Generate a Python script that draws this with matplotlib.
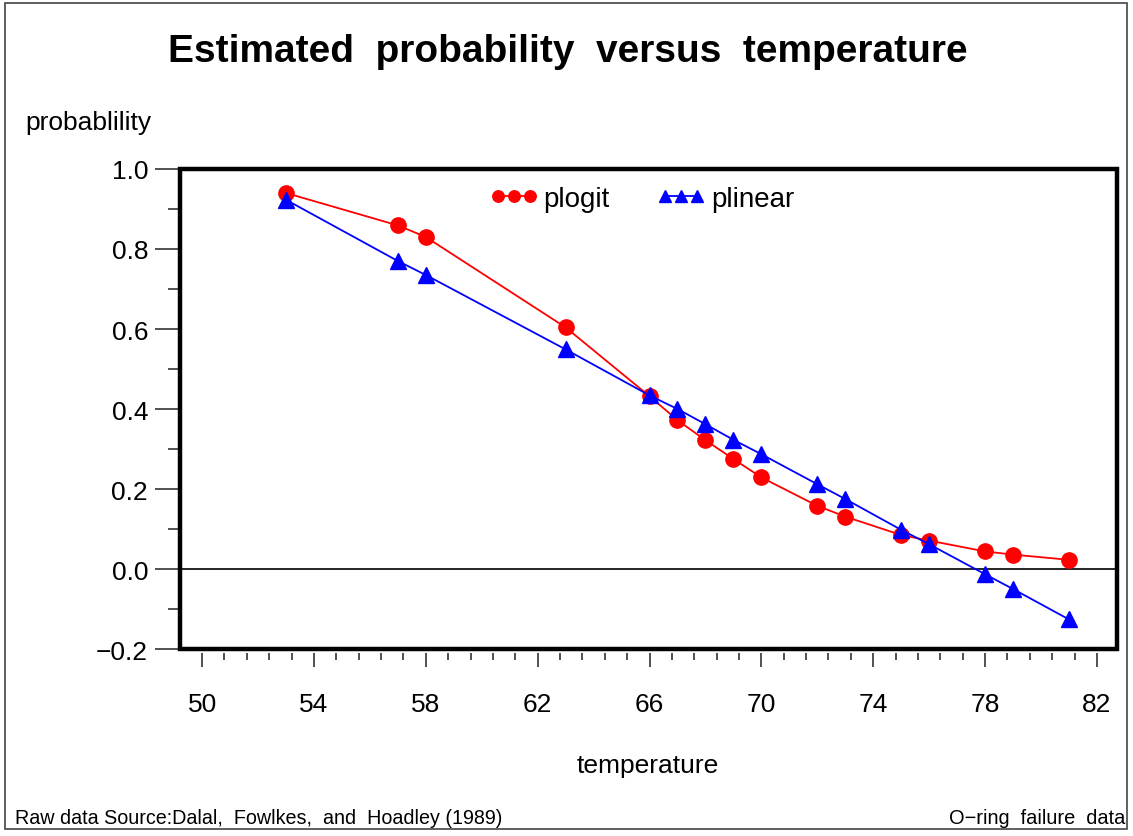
import numpy as np
import matplotlib
matplotlib.use('Agg')
import matplotlib.pyplot as plt
from matplotlib.patches import Rectangle
from matplotlib.ticker import MultipleLocator, FixedLocator

plt.rcParams['font.family'] = ['Liberation Sans', 'DejaVu Sans']
plt.rcParams['axes.unicode_minus'] = True

# O-ring data: launch temperature and fitted failure probabilities
temperature = [53, 57, 58, 63, 66, 67, 68, 69, 70, 72, 73, 75, 76, 78, 79, 81]
plogit = [0.940, 0.859, 0.830, 0.604, 0.432, 0.372, 0.322, 0.275, 0.229,
          0.158, 0.131, 0.085, 0.071, 0.044, 0.036, 0.023]
plinear = [0.923, 0.770, 0.735, 0.549, 0.434, 0.400, 0.362, 0.323, 0.287,
           0.212, 0.175, 0.098, 0.062, -0.013, -0.050, -0.126]

xticks = [50, 54, 58, 62, 66, 70, 74, 78, 82]
yticks = [-0.2, 0.0, 0.2, 0.4, 0.6, 0.8, 1.0]
ylabels = ['\u22120.2', '0.0', '0.2', '0.4', '0.6', '0.8', '1.0']

fig = plt.figure(figsize=(11.33, 8.37), dpi=100)
ax = fig.add_axes([0.1589, 0.2234, 0.9859 - 0.1589, 0.7969 - 0.2234])

ax.plot(temperature, plogit, color='red', lw=1.3, marker='o', ms=11,
        label='plogit', zorder=3)
ax.plot(temperature, plinear, color='blue', lw=1.3, marker='^', ms=12,
        label='plinear', zorder=4)
ax.axhline(0.0, color='black', lw=1.2, zorder=1)

ax.set_xlim(49.21, 82.72)
ax.set_ylim(-0.2, 1.0)

# frame drawn separately so the x ticks can sit slightly below it
for s in ax.spines.values():
    s.set_visible(False)
ax.spines['bottom'].set_position(('outward', 3))
ax.add_patch(Rectangle((0, 0), 1, 1, transform=ax.transAxes, fill=False,
                       lw=3.2, edgecolor='black', clip_on=False, zorder=5))

ax.set_xticks(xticks)
ax.set_xticklabels([str(t) for t in xticks])
ax.xaxis.set_minor_locator(FixedLocator(np.arange(50, 82.01, 0.8)))
ax.set_yticks(yticks)
ax.set_yticklabels(ylabels)
ax.yaxis.set_minor_locator(MultipleLocator(0.1))

ax.tick_params(axis='x', which='major', length=10, width=1.1, pad=18,
               labelsize=19, color='#222222')
ax.tick_params(axis='x', which='minor', length=5, width=1.1, color='#222222')
ax.tick_params(axis='y', which='major', length=18, width=1.1, pad=5,
               labelsize=19, color='#222222')
ax.tick_params(axis='y', which='minor', length=9, width=1.1, color='#222222')

ax.legend(loc='center', bbox_to_anchor=(0.493, 0.9375), ncol=2, frameon=False,
          numpoints=3, handlelength=1.75, handletextpad=0.2,
          columnspacing=1.7, fontsize=20, markerscale=0.75)

fig.text(0.5015, 0.938, 'Estimated  probability  versus  temperature',
         ha='center', va='center', fontsize=28, fontweight='bold')
fig.text(0.022, 0.853, 'probablility', ha='left', va='center', fontsize=19)
fig.text(0.572, 0.085, 'temperature', ha='center', va='center', fontsize=19)
fig.text(0.013, 0.022, 'Raw data Source:Dalal,  Fowlkes,  and  Hoadley (1989)',
         ha='left', va='center', fontsize=14.2)
fig.text(0.993, 0.022, 'O\u2212ring  failure  data', ha='right',
         va='center', fontsize=14.4)

# thin border around the whole page
fig.add_artist(Rectangle((0.0044, 0.0084), 0.9903, 0.9866,
                         transform=fig.transFigure, fill=False, lw=1.2,
                         edgecolor='#444444'))

fig.savefig('out.png', dpi=100)
